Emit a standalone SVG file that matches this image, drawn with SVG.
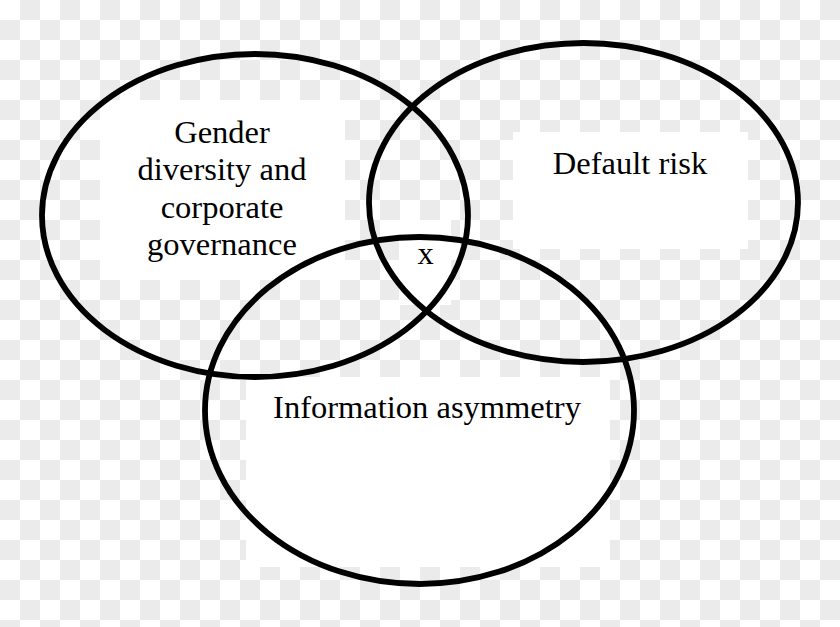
<svg xmlns="http://www.w3.org/2000/svg" width="840" height="627" viewBox="0 0 840 627">
  <defs>
    <pattern id="checker" x="0" y="0" width="40" height="40" patternUnits="userSpaceOnUse">
      <rect x="0" y="0" width="40" height="40" fill="#ffffff"/>
      <rect x="20" y="0" width="20" height="20" fill="#ebebeb"/>
      <rect x="0" y="20" width="20" height="20" fill="#ebebeb"/>
    </pattern>
  </defs>
  <style>
    .set { fill: none; stroke: #000000; stroke-width: 5.8; }
    .pad { fill: #ffffff; stroke: none; }
    .lbl { font-family: "Liberation Serif", "Times New Roman", serif; font-size: 32.5px; fill: #000000; text-anchor: middle; }
  </style>
  <rect x="0" y="0" width="840" height="627" fill="url(#checker)"/>
  <g id="backgrounds">
    <rect class="pad" x="100" y="100" width="245" height="180"/>
    <rect class="pad" x="513" y="132" width="235" height="117"/>
    <rect class="pad" x="246" y="377" width="364" height="190"/>
    <rect class="pad" x="399" y="220" width="52" height="85"/>
  </g>
  <g id="connectors"></g>
  <g id="node-gender">
    <ellipse class="set" cx="255" cy="215.5" rx="213" ry="161.5"/>
    <text class="lbl" x="222" y="143">Gender</text>
    <text class="lbl" x="222" y="180">diversity and</text>
    <text class="lbl" x="222" y="218">corporate</text>
    <text class="lbl" x="222" y="255">governance</text>
  </g>
  <g id="node-default">
    <ellipse class="set" cx="583.5" cy="202.5" rx="214.5" ry="159.5"/>
    <text class="lbl" x="630" y="174">Default risk</text>
  </g>
  <g id="node-info">
    <ellipse class="set" cx="419.5" cy="410.5" rx="214.5" ry="173.5"/>
    <text class="lbl" x="427" y="418">Information asymmetry</text>
  </g>
  <g id="node-x">
    <text class="lbl" x="425.5" y="264">x</text>
  </g>
</svg>
